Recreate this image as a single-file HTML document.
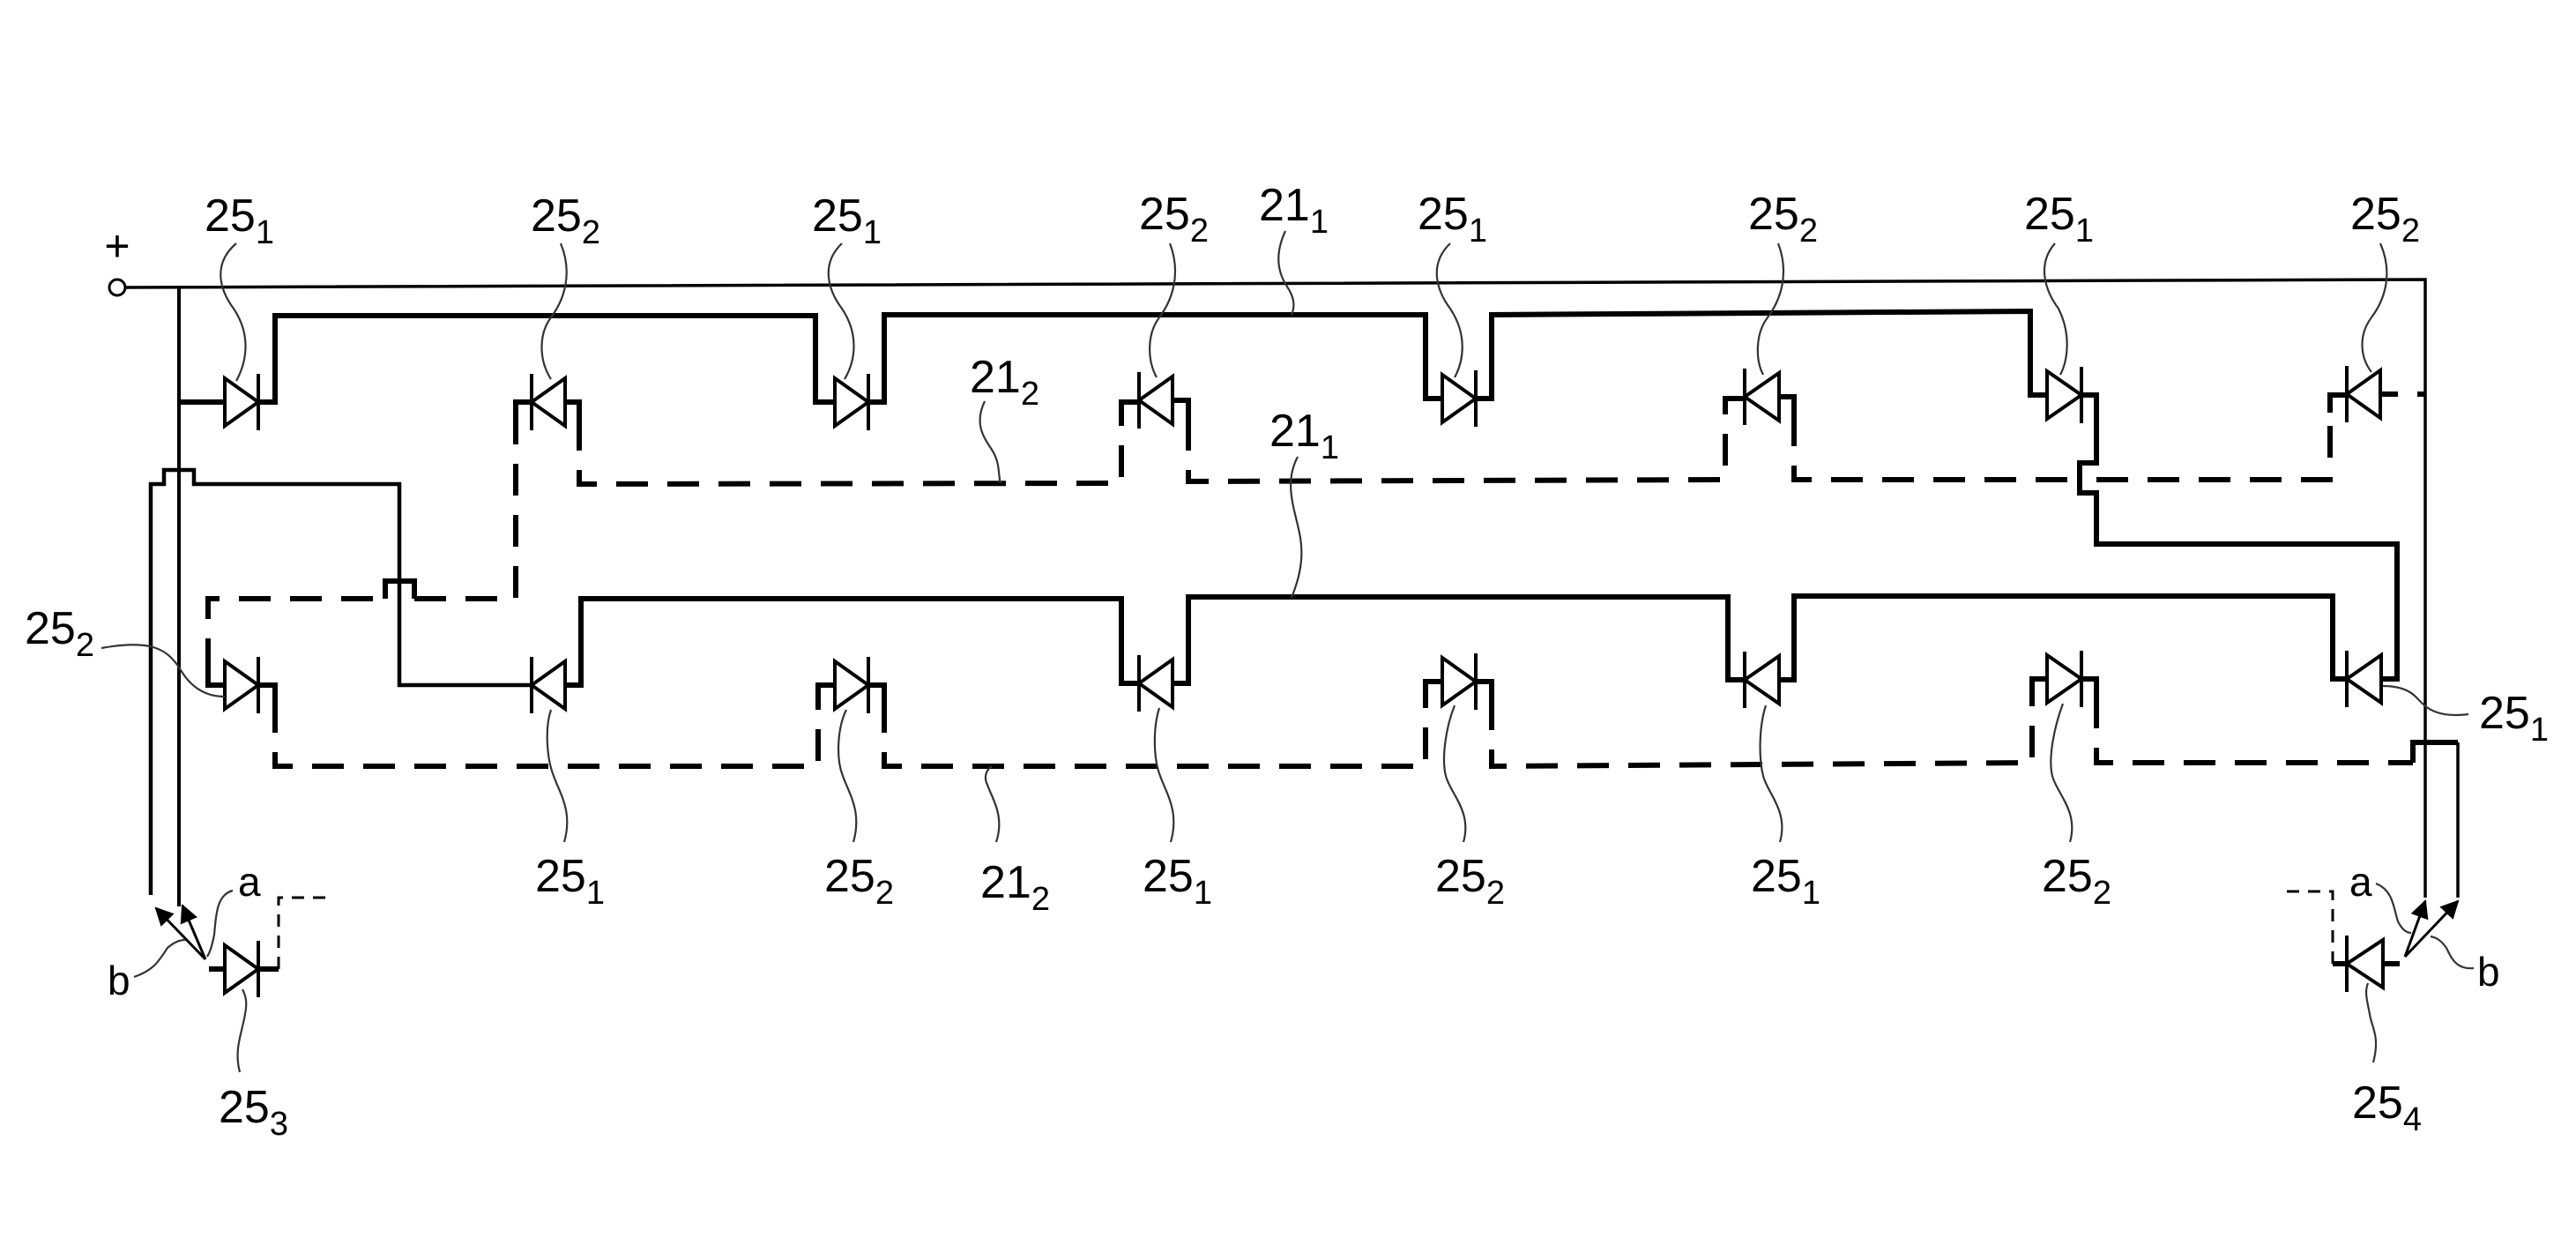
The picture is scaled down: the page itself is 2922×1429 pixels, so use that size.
<!DOCTYPE html>
<html><head><meta charset="utf-8"><style>
html,body{margin:0;padding:0;background:#fff;}
svg{display:block;}
text{font-family:"Liberation Sans Narrow","Liberation Sans",sans-serif;fill:#000;}
</style></head><body>
<svg width="2922" height="1429" viewBox="0 0 2922 1429" xmlns="http://www.w3.org/2000/svg">
<defs>
<marker id="ar" viewBox="0 0 10 10" refX="9" refY="5" markerWidth="7" markerHeight="7" orient="auto"><path d="M0,0 L10,5 L0,10 z" fill="#000"/></marker>
</defs>
<g fill="none" stroke="#000" stroke-linejoin="miter">
<circle cx="133" cy="326" r="9" stroke-width="3"/>
<path d="M142,326 L2751,317 L2751,1018" stroke-width="3.5"/>
<path d="M203,326 L203,1028" stroke-width="4"/>
<path d="M203,456 L255,456" stroke-width="6"/>
<path d="M293,456 L312,456 L312,358 L925,358 L925,456 L947,456 M985,456 L1003,456 L1003,357 L1617,357 L1617,452 L1636,452 M1674,452 L1692,452 L1692,357 L2303,353 L2303,448 L2322,448 M2361,448 L2378,448 L2378,525 L2359,525 L2359,559 L2378,559 L2378,617 L2719,617 L2719,770 L2701,770" stroke-width="6"/>
<path d="M2662,770 L2646,770 L2646,676 L2035,676 L2035,771 L2018,771 M1979,771 L1960,771 L1960,677 L1348,677 L1348,775 L1330,775 M1292,775 L1272,775 L1272,679 L659,679 L659,777 L641,777" stroke-width="6"/>
<path d="M603,777 L453,777 L453,549 L220,549 L220,533 L186,533 L186,549 L171,549 L171,1015" stroke-width="4.5"/>
<g stroke-width="6" stroke-dasharray="36 22">
<path d="M236,760 L236,679 L437,679"/>
<path d="M470,679 L585,679 L585,475"/>
<path d="M657,475 L657,549 L1272,548 L1272,475"/>
<path d="M1348,475 L1348,546 L1957,544 L1957,470"/>
<path d="M2035,470 L2035,544 L2359,544"/>
<path d="M2378,544 L2643,544 L2643,468"/>
<path d="M2700,447 L2751,447" stroke-dasharray="20 22"/>
<path d="M312,795 L312,869 L928,869 L928,795"/>
<path d="M1003,795 L1003,869 L1617,869 L1617,792"/>
<path d="M1692,792 L1692,869 L2305,865 L2305,790"/>
<path d="M2378,790 L2378,865 L2737,865"/>
</g>
<g stroke-width="6">
<path d="M236,760 L236,777 L255,777"/>
<path d="M437,679 L437,659 L470,659 L470,679"/>
<path d="M585,475 L585,456 L603,456 M641,456 L657,456 L657,475"/>
<path d="M1272,475 L1272,456 L1292,456 M1330,454 L1348,454 L1348,475"/>
<path d="M1957,470 L1957,452 L1979,452 M2018,450 L2035,450 L2035,470"/>
<path d="M2643,468 L2643,448 L2662,448"/>
<path d="M293,777 L312,777 L312,795 M928,795 L928,777 L947,777 M985,777 L1003,777 L1003,795"/>
<path d="M1617,792 L1617,773 L1636,773 M1674,773 L1692,773 L1692,792"/>
<path d="M2305,790 L2305,770 L2322,770 M2361,770 L2378,770 L2378,790"/>
<path d="M2737,865 L2737,842 L2788,842"/>
</g>
<path d="M2788,842 L2788,1018" stroke-width="3.5"/>
<path d="M237,1099 L255,1099 M293,1099 L316,1099" stroke-width="6"/>
<path d="M316,1099 L316,1018 L370,1018" stroke-width="3" stroke-dasharray="14 10"/>
<path d="M233,1088 L177,1030" stroke-width="3" marker-end="url(#ar)"/>
<path d="M233,1088 L207,1027" stroke-width="3" marker-end="url(#ar)"/>
<path d="M2703,1093 L2722,1093 M2662,1093 L2646,1093" stroke-width="6"/>
<path d="M2646,1093 L2646,1011 L2585,1011" stroke-width="3" stroke-dasharray="14 10"/>
<path d="M2728,1085 L2751,1022" stroke-width="3" marker-end="url(#ar)"/>
<path d="M2728,1085 L2788,1022" stroke-width="3" marker-end="url(#ar)"/>
<g stroke-width="4" fill="#fff">
<polygon points="255,429 255,483 293,456"/><line x1="293" y1="424" x2="293" y2="488"/>
<polygon points="641,429 641,483 603,456"/><line x1="603" y1="424" x2="603" y2="488"/>
<polygon points="947,429 947,483 985,456"/><line x1="985" y1="424" x2="985" y2="488"/>
<polygon points="1330,427 1330,481 1292,454"/><line x1="1292" y1="422" x2="1292" y2="486"/>
<polygon points="1636,425 1636,479 1674,452"/><line x1="1674" y1="420" x2="1674" y2="484"/>
<polygon points="2018,423 2018,477 1979,450"/><line x1="1979" y1="418" x2="1979" y2="482"/>
<polygon points="2322,421 2322,475 2361,448"/><line x1="2361" y1="416" x2="2361" y2="480"/>
<polygon points="2700,420 2700,474 2662,447"/><line x1="2662" y1="415" x2="2662" y2="479"/>
<polygon points="255,750 255,804 293,777"/><line x1="293" y1="745" x2="293" y2="809"/>
<polygon points="641,750 641,804 603,777"/><line x1="603" y1="745" x2="603" y2="809"/>
<polygon points="947,750 947,804 985,777"/><line x1="985" y1="745" x2="985" y2="809"/>
<polygon points="1330,748 1330,802 1292,775"/><line x1="1292" y1="743" x2="1292" y2="807"/>
<polygon points="1636,746 1636,800 1674,773"/><line x1="1674" y1="741" x2="1674" y2="805"/>
<polygon points="2018,744 2018,798 1979,771"/><line x1="1979" y1="739" x2="1979" y2="803"/>
<polygon points="2322,743 2322,797 2361,770"/><line x1="2361" y1="738" x2="2361" y2="802"/>
<polygon points="2701,743 2701,797 2662,770"/><line x1="2662" y1="738" x2="2662" y2="802"/>
<polygon points="255,1072 255,1126 293,1099"/><line x1="293" y1="1067" x2="293" y2="1131"/>
<polygon points="2703,1066 2703,1120 2662,1093"/><line x1="2662" y1="1061" x2="2662" y2="1125"/>
</g>
<g stroke-width="2.2" stroke="#333">
<path d="M268,276 C240,300 250,330 265,350 C285,380 280,410 268,432"/>
<path d="M636,276 C650,310 640,340 625,360 C610,380 612,410 625,430"/>
<path d="M955,276 C930,300 940,330 955,350 C975,380 970,410 958,430"/>
<path d="M1327,276 C1340,310 1330,340 1315,360 C1300,380 1302,410 1312,428"/>
<path d="M1458,262 C1445,290 1450,310 1460,325 C1470,340 1468,350 1465,357"/>
<path d="M1645,276 C1620,300 1630,330 1645,350 C1665,380 1660,410 1650,428"/>
<path d="M2017,276 C2030,310 2020,340 2005,360 C1990,380 1992,410 2000,425"/>
<path d="M2331,276 C2310,300 2320,330 2335,350 C2350,380 2345,410 2337,425"/>
<path d="M2700,276 C2715,310 2705,340 2690,360 C2675,380 2677,405 2690,422"/>
<path d="M1117,455 C1105,480 1115,495 1125,510 C1135,525 1132,540 1135,548"/>
<path d="M1472,518 C1455,550 1470,580 1475,610 C1480,640 1470,665 1465,678"/>
<path d="M115,735 C170,725 190,735 205,760 C220,785 240,790 255,790"/>
<path d="M2800,810 C2760,815 2750,800 2740,790 C2730,780 2715,778 2703,778"/>
<path d="M640,955 C650,920 635,900 628,880 C620,860 618,825 625,805"/>
<path d="M968,955 C978,920 963,900 956,880 C948,860 950,825 960,805"/>
<path d="M1130,955 C1140,925 1125,905 1120,890 C1115,880 1120,872 1125,869"/>
<path d="M1328,955 C1338,920 1323,900 1316,880 C1308,860 1308,825 1315,803"/>
<path d="M1660,955 C1670,920 1645,900 1640,880 C1635,860 1640,825 1650,800"/>
<path d="M2019,955 C2029,920 2005,900 2000,880 C1995,860 1995,825 2003,800"/>
<path d="M2348,955 C2358,920 2333,900 2328,880 C2323,860 2330,825 2340,798"/>
<path d="M272,1216 C265,1190 275,1170 278,1150 C281,1135 278,1128 275,1122"/>
<path d="M2692,1205 C2700,1175 2690,1165 2688,1150 C2685,1135 2682,1125 2686,1115"/>
<path d="M264,1010 C245,1015 245,1040 243,1060 C240,1075 238,1080 235,1085"/>
<path d="M152,1108 C175,1100 180,1090 190,1075 C198,1068 205,1066 210,1066"/>
<path d="M2695,1002 C2715,1010 2715,1030 2720,1045 C2725,1055 2730,1058 2735,1058"/>
<path d="M2806,1098 C2785,1100 2780,1085 2775,1075 C2768,1065 2762,1063 2757,1062"/>
</g>
</g>
<g font-size="52">
<text x="133" y="296" text-anchor="middle" font-size="50">+</text>
<text x="232" y="262">25<tspan font-size="38" dy="14">1</tspan></text>
<text x="602" y="262">25<tspan font-size="38" dy="14">2</tspan></text>
<text x="921" y="262">25<tspan font-size="38" dy="14">1</tspan></text>
<text x="1292" y="260">25<tspan font-size="38" dy="14">2</tspan></text>
<text x="1428" y="250">21<tspan font-size="38" dy="14">1</tspan></text>
<text x="1608" y="260">25<tspan font-size="38" dy="14">1</tspan></text>
<text x="1983" y="260">25<tspan font-size="38" dy="14">2</tspan></text>
<text x="2296" y="260">25<tspan font-size="38" dy="14">1</tspan></text>
<text x="2666" y="260">25<tspan font-size="38" dy="14">2</tspan></text>
<text x="1100" y="445">21<tspan font-size="38" dy="14">2</tspan></text>
<text x="1440" y="506">21<tspan font-size="38" dy="14">1</tspan></text>
<text x="28" y="730">25<tspan font-size="38" dy="14">2</tspan></text>
<text x="2812" y="826">25<tspan font-size="38" dy="14">1</tspan></text>
<text x="607" y="1011">25<tspan font-size="38" dy="14">1</tspan></text>
<text x="935" y="1011">25<tspan font-size="38" dy="14">2</tspan></text>
<text x="1112" y="1018">21<tspan font-size="38" dy="14">2</tspan></text>
<text x="1296" y="1011">25<tspan font-size="38" dy="14">1</tspan></text>
<text x="1628" y="1011">25<tspan font-size="38" dy="14">2</tspan></text>
<text x="1986" y="1011">25<tspan font-size="38" dy="14">1</tspan></text>
<text x="2316" y="1011">25<tspan font-size="38" dy="14">2</tspan></text>
<text x="248" y="1273">25<tspan font-size="38" dy="14">3</tspan></text>
<text x="2668" y="1268">25<tspan font-size="38" dy="14">4</tspan></text>
<text x="270" y="1016" font-size="46">a</text>
<text x="122" y="1128" font-size="46">b</text>
<text x="2665" y="1016" font-size="46">a</text>
<text x="2810" y="1118" font-size="46">b</text>
</g>
</svg>
</body></html>
